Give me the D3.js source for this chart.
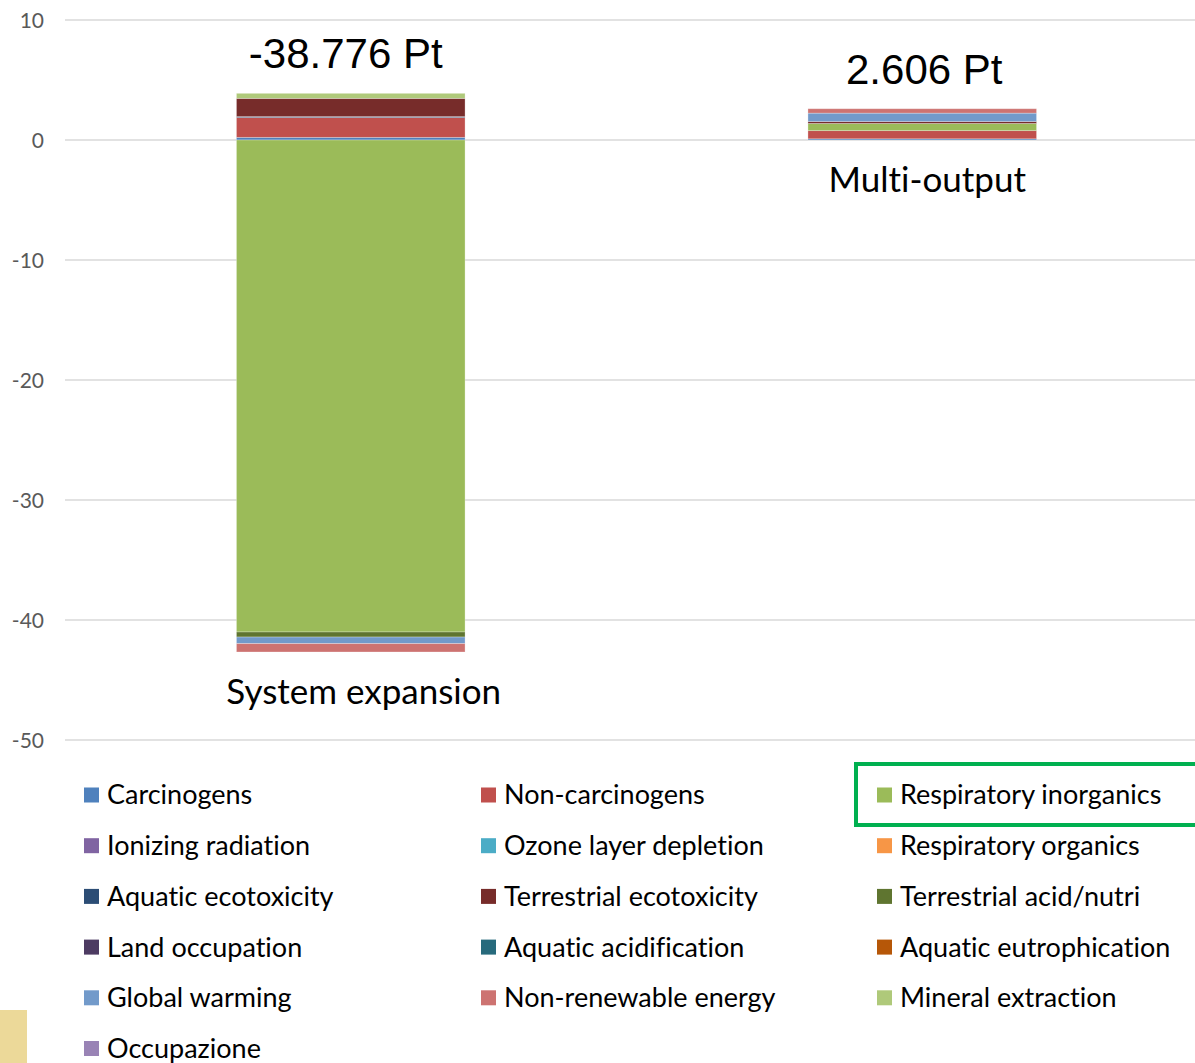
<!DOCTYPE html>
<html>
<head>
<meta charset="utf-8">
<script src="https://cdn.jsdelivr.net/npm/d3@7"></script>
<style>
  html, body { margin: 0; padding: 0; background: #fff; }
  svg { display: block; }
  text { font-variant-ligatures: none; }
</style>
</head>
<body>
<svg id="chart" width="1195" height="1063"></svg>
<script>
// Scenarios compared (one stacked column each)
const categories = ["System expansion", "Multi-output"];

// Impact categories, in stacking / legend order
const impactCategories = [
  "Carcinogens", "Non-carcinogens", "Respiratory inorganics",
  "Ionizing radiation", "Ozone layer depletion", "Respiratory organics",
  "Aquatic ecotoxicity", "Terrestrial ecotoxicity", "Terrestrial acid/nutri",
  "Land occupation", "Aquatic acidification", "Aquatic eutrophication",
  "Global warming", "Non-renewable energy", "Mineral extraction",
  "Occupazione"
];

// Single-score contributions (Pt) per impact category
const systemExpansion = [0.22, 1.65, -41.0, 0, 0, 0, 0.08, 1.52, -0.42, 0, 0, 0, -0.55, -0.696, 0.42, 0];
const multiOutput     = [0.10, 0.68, 0.60, 0, 0, 0, 0, 0.16, 0, 0, 0, 0, 0.70, 0.366, 0, 0];

const seriesColors = [
  "#4F81BD", "#C0504D", "#9BBB59", "#8064A2", "#4BACC6", "#F79646",
  "#2C4D75", "#772C2A", "#5F7530", "#4D3B62", "#276A7C", "#B65708",
  "#729ACA", "#CD7371", "#AFC97A", "#9983B5"
];

const yTicks = [10, 0, -10, -20, -30, -40, -50];

const scenarioValues = [systemExpansion, multiOutput];
const rows = categories.map((c, i) => {
  const r = { category: c };
  impactCategories.forEach((k, j) => { r[k] = scenarioValues[i][j]; });
  return r;
});

// plain hyphen for negative numbers
const locale = d3.formatLocale({ decimal: ".", thousands: ",", grouping: [3], currency: ["", ""], minus: "-" });

const svg = d3.select("#chart");
const plotLeft = 65, plotRight = 1208;

const x = d3.scaleBand().domain(categories).range([plotLeft, plotRight]).padding(0);
const y = d3.scaleLinear().domain([-50, 10]).range([740, 20]);
const color = d3.scaleOrdinal().domain(impactCategories).range(seriesColors);
const barWidth = x.bandwidth() * 0.4;

// gridlines + tick labels
svg.append("g").selectAll("line").data(yTicks).join("line")
  .attr("x1", plotLeft).attr("x2", 1195)
  .attr("y1", d => y(d)).attr("y2", d => y(d))
  .attr("stroke", "#D9D9D9").attr("stroke-width", 1.5);
const yAxis = d3.axisLeft(y).tickValues(yTicks).tickFormat(locale.format("d")).tickSize(0).tickPadding(0);
const axisG = svg.append("g").attr("transform", `translate(${plotLeft},0)`).call(yAxis);
axisG.select(".domain").remove();
axisG.selectAll(".tick line").remove();
axisG.selectAll(".tick text")
  .attr("x", -21)
  .attr("dy", "0.35em")
  .attr("fill", "#595959")
  .style("font-family", "Lato, 'Open Sans', sans-serif")
  .style("font-size", "21px");

// stacked columns
const stack = d3.stack().keys(impactCategories).offset(d3.stackOffsetDiverging);
const layers = stack(rows);

svg.append("g").selectAll("g").data(layers).join("g")
  .attr("fill", d => color(d.key))
  .selectAll("rect").data(d => d.filter(s => s[1] - s[0] !== 0)).join("rect")
  .attr("x", d => x(d.data.category) + (x.bandwidth() - barWidth) / 2)
  .attr("width", barWidth)
  .attr("y", d => y(Math.max(d[0], d[1])))
  .attr("height", d => Math.abs(y(d[0]) - y(d[1])))
  .attr("stroke", "#ffffff").attr("stroke-opacity", 0.35).attr("stroke-width", 0.8);

// totals above each column, scenario name below
const fmt = locale.format(".3f");
const totalShift = [-5, 2];
const nameShift = [13, 5];
rows.forEach((r, i) => {
  const vals = scenarioValues[i];
  const total = d3.sum(vals);
  const top = d3.sum(vals.filter(v => v > 0));
  const bottom = d3.sum(vals.filter(v => v < 0));
  const cx = x(r.category) + x.bandwidth() / 2;
  svg.append("text")
    .attr("x", cx + totalShift[i]).attr("y", y(top) - 25)
    .attr("text-anchor", "middle")
    .style("font-family", "'Liberation Sans', Arial, sans-serif")
    .style("font-size", "42px")
    .attr("fill", "#000")
    .text(`${fmt(total)} Pt`);
  svg.append("text")
    .attr("x", cx + nameShift[i]).attr("y", y(bottom) + 52)
    .attr("text-anchor", "middle")
    .style("font-family", "Lato, 'Open Sans', sans-serif")
    .style("font-size", "35px")
    .attr("fill", "#000")
    .text(r.category);
});

// legend, three columns
const legendCols = [84, 481, 877];
const legendRow0 = 795, legendRowStep = 50.7;
const legend = svg.append("g").selectAll("g").data(impactCategories).join("g")
  .attr("transform", (d, i) => `translate(${legendCols[i % 3]},${legendRow0 + Math.floor(i / 3) * legendRowStep})`);
legend.append("rect")
  .attr("x", 0).attr("y", -7.5).attr("width", 15).attr("height", 15)
  .attr("fill", d => color(d));
legend.append("text")
  .attr("x", 23).attr("y", 0).attr("dy", "0.35em")
  .style("font-family", "Lato, 'Open Sans', sans-serif")
  .style("font-size", "27px")
  .attr("fill", "#000")
  .text(d => d);

// highlight frame around the respiratory inorganics entry
svg.append("rect")
  .attr("x", 856).attr("y", 764).attr("width", 360).attr("height", 61)
  .attr("fill", "none").attr("stroke", "#00B050").attr("stroke-width", 4);

// corner swatch
svg.append("rect")
  .attr("x", 0).attr("y", 1010).attr("width", 27).attr("height", 60)
  .attr("fill", "#ECD999");
</script>
</body>
</html>
